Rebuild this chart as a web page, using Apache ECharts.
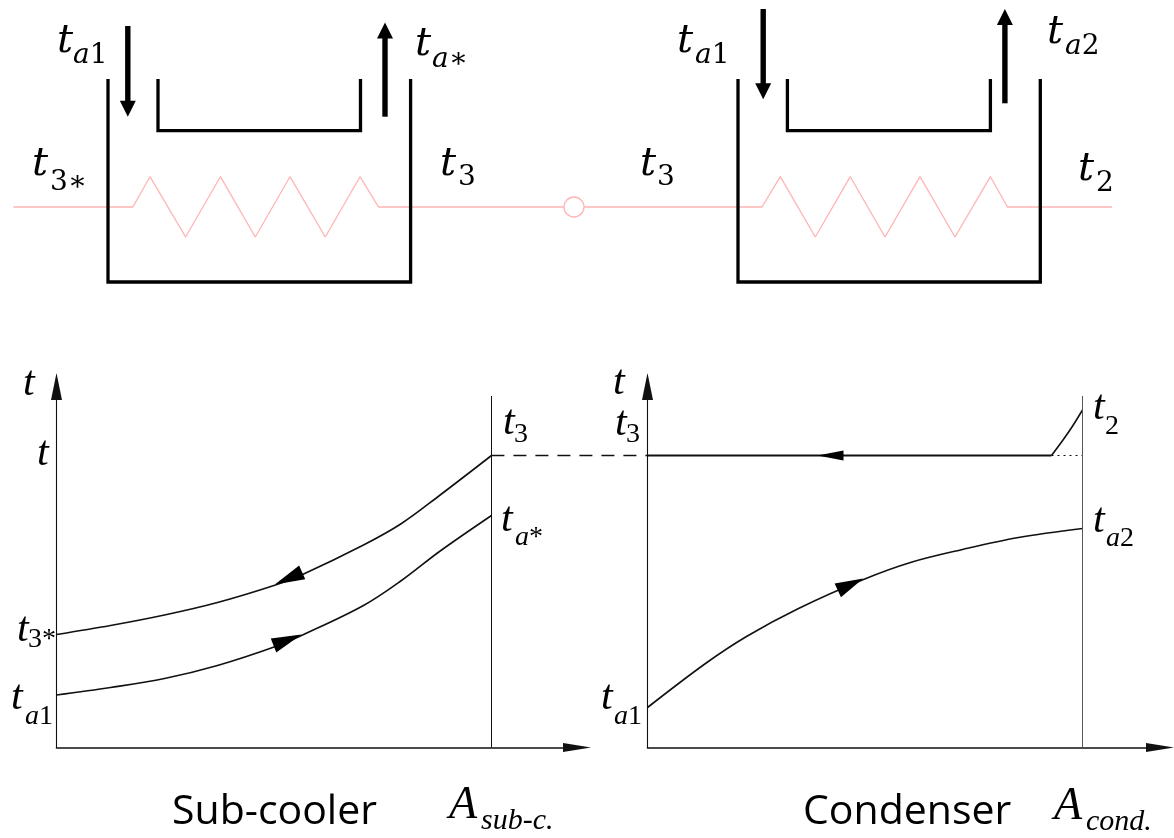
<!DOCTYPE html>
<html><head><meta charset="utf-8">
<style>html,body{margin:0;padding:0;background:#fff}#c{width:1174px;height:838px}</style>
<script src="https://cdn.jsdelivr.net/npm/echarts@6/dist/echarts.min.js"></script>
</head><body><div id="c"></div>
<script>
// ---- lower plots: x = heat-transfer area, y = temperature (diagram units)
const subRefrigerant = [[0,113],[54,122],[108,132.5],[161,145],[219,162.5],[245,172.5],[307,202.5],[345,224],[383,252],[435,292]];
const subAir = [[0,52.5],[54,60],[108,69],[161,82],[219,101],[245,112],[307,142],[345,167],[383,196],[435,232]];
const subEnd = [[435,0],[435,351.5]];
const condFlat = [[0,292],[404,292]];
const condDesuper = [[404,292],[415.5,307.5],[424.8,321],[435,337.5]];
const condDotted = [[404,292],[435,292]];
const condAir = [[0,40],[58,84],[99,111],[151,139],[216,168],[263,185],[315,198],[371,210],[435,219]];
const condEnd = [[435,0],[435,351.5]];
// flow arrows: x, y, direction
const subFlowArrows = [[232,169,114],[231,107.5,-68.6]];
const condFlatArrow = [[183,292,90]];
const condAirArrow = [[203,163,-65]];
// ---- schematic (diagram units)
const link = [[491.4,455.5],[648,455.5]];
const tankL = [[108,79],[108,282],[410.6,282],[410.6,79]];
const baffleL = [[158,79],[158,130.7],[360.5,130.7],[360.5,79]];
const tankR = [[738,79],[738,282],[1040.3,282],[1040.3,79]];
const baffleR = [[787.4,79],[787.4,130.7],[990.4,130.7],[990.4,79]];
const pipeL = [[13.4,207],[132.8,207],[150,176.7],[185.6,237],[220.4,176.7],[255.3,237],[290,176.7],[325.3,237],[360,176.7],[378.5,207],[564,207]];
const pipeR = [[584,207],[762,207],[780.3,176.7],[815.3,237],[850.3,176.7],[885,237],[920,176.7],[955,237],[990.4,176.7],[1007.5,207],[1112,207]];
const receiver = [[574,207]];
const airShafts = [[[127.8,26],[127.8,102]],[[385,116.7],[385,37]],[[763.2,9],[763.2,85]],[[1004.9,103.3],[1004.9,24]]];
const airHeads = [[127.8,108.7,180],[385,30.4,0],[763.2,91.3,180],[1004.9,17,0]];
// ---- labels
const mathLabels = [
 ['t','{i|a}{r|1}',57,42,73,56],['t','{i|a}{r|∗}',415,45,432,60],['t','{r|3∗}',32,165,50,183],['t','{r|3}',440,165,458,178],
 ['t','{i|a}{r|1}',677,42,695,56],['t','{i|a}{r|2}',1047,33,1065,47],['t','{r|3}',640,165,657,178],['t','{r|2}',1078,170,1096,184]
];
const plotLabels = [
 ['t','',23,384,0,0],['t','',37,454,0,0],['t','{r|3}',503,423,514,435],['t','{i|a}{r|*}',501,520,515,538],
 ['t','{r|3*}',17,630,28,640],['t','{i|a}{r|1}',11,698,25,717],
 ['t','',613,383,0,0],['t','{r|3}',615,424,626,435],['t','{r|2}',1093,408,1105,427],['t','{i|a}{r|2}',1093,521,1106,539],['t','{i|a}{r|1}',601,698,614,717]
];
const captions = [['Sub-cooler',172,812],['Condenser',803,812]];
const areaLabels = [['A','sub-c.',449,806,481,821],['A','cond.',1054,807,1086,822]];

const INK='#111', PINK='#ffb4b4';
function line(data,g,o){return Object.assign({type:'line',data,xAxisIndex:g,yAxisIndex:g,showSymbol:false,symbol:'none',silent:true,clip:false,lineStyle:{color:INK,width:1.6},z:3},o||{});}
function heads(data,g,size){return {type:'scatter',xAxisIndex:g,yAxisIndex:g,silent:true,clip:false,z:5,
  data:data.map(d=>({value:[d[0],d[1]],symbolRotate:d[2]})),symbol:'triangle',symbolSize:size,itemStyle:{color:'#000',opacity:1}};}
const arrowLine=(size,w)=>({show:true,onZero:false,symbol:['none','triangle'],symbolSize:size,lineStyle:{color:INK,width:w}});
function plotAxes(g,xmax){return {
  x:{type:'value',gridIndex:g,min:0,max:xmax,axisLine:arrowLine([9,28],1.6),axisTick:{show:false},axisLabel:{show:false},splitLine:{show:false}},
  y:{type:'value',gridIndex:g,min:0,max:361,axisLine:arrowLine([11,27],1.1),axisTick:{show:false},axisLabel:{show:false},splitLine:{show:false}}};}
const a0=plotAxes(0,520.5), a1=plotAxes(1,512.5);
const hidden=(o)=>Object.assign({type:'value',gridIndex:2,show:false,splitLine:{show:false}},o);

const texts=[];
function T(text,x,y,font,rich){texts.push({type:'text',z:20,silent:true,style:Object.assign({text,x,y,font,fill:'#000',textVerticalAlign:'middle',textBaseline:'middle'},rich?{rich}:{})});}
const mathRich={i:{font:'italic 28px "DejaVu Serif"',fill:'#000'},r:{font:'28px "DejaVu Serif"',fill:'#000'}};
const plotRich={i:{font:'italic 28px "Liberation Serif"',fill:'#000'},r:{font:'28px "Liberation Serif"',fill:'#000'}};
mathLabels.forEach(l=>{T(l[0],l[2],l[3],'italic 40px "DejaVu Serif"');T(l[1],l[4],l[5],'28px "DejaVu Serif"',mathRich);});
plotLabels.forEach(l=>{T(l[0],l[2],l[3],'italic 42px "Liberation Serif"');if(l[1])T(l[1],l[4],l[5],'28px "Liberation Serif"',plotRich);});
captions.forEach(c=>T(c[0],c[1],c[2],'41px "Open Sans"'));
areaLabels.forEach(l=>{T(l[0],l[2],l[3],'italic 46px "Liberation Serif"');T(l[1],l[4],l[5],'italic 30px "Liberation Serif"');});

const chart=echarts.init(document.getElementById('c'),null,{renderer:'canvas'});
chart.setOption({
 animation:false,backgroundColor:'#fff',
 grid:[
  {left:56.5,top:386.5,width:520.5,height:361,containLabel:false},
  {left:647.5,top:386.5,width:512.5,height:361,containLabel:false},
  {left:0,top:0,width:1174,height:838}
 ],
 xAxis:[a0.x,a1.x,hidden({min:0,max:1174})],
 yAxis:[a0.y,a1.y,hidden({min:0,max:838,inverse:true})],
 series:[
  line(subRefrigerant,0,{smooth:0.35}),
  line(subAir,0,{smooth:0.35}),
  line(subEnd,0,{lineStyle:{color:INK,width:1}}),
  line(link,2,{lineStyle:{color:INK,width:1.5,type:[13,9]}}),
  heads(subFlowArrows,0,[15,30]),
  line(condFlat,1,{lineStyle:{color:INK,width:1.8}}),
  line(condDesuper,1,{smooth:0.3}),
  line(condDotted,1,{lineStyle:{color:INK,width:1.2,type:[2,4]}}),
  line(condAir,1,{smooth:0.35}),
  line(condEnd,1,{lineStyle:{color:'#555',width:1}}),
  heads(condFlatArrow,1,[10,26]),
  heads(condAirArrow,1,[15,28]),
  line(pipeL,2,{lineStyle:{color:PINK,width:1.3},z:2}),
  line(pipeR,2,{lineStyle:{color:PINK,width:1.3},z:2}),
  {type:'scatter',xAxisIndex:2,yAxisIndex:2,silent:true,data:receiver,symbol:'circle',symbolSize:20,itemStyle:{color:'#fff',borderColor:PINK,borderWidth:1.3,opacity:1},z:2},
  line(tankL,2,{lineStyle:{color:'#000',width:3.3,join:'miter'}}),
  line(baffleL,2,{lineStyle:{color:'#000',width:3.3,join:'miter'}}),
  line(tankR,2,{lineStyle:{color:'#000',width:3.3,join:'miter'}}),
  line(baffleR,2,{lineStyle:{color:'#000',width:3.3,join:'miter'}}),
  ...airShafts.map(s=>line(s,2,{lineStyle:{color:'#000',width:5.4}})),
  heads(airHeads,2,[16,16])
 ],
 graphic:{elements:texts}
});
</script></body></html>
